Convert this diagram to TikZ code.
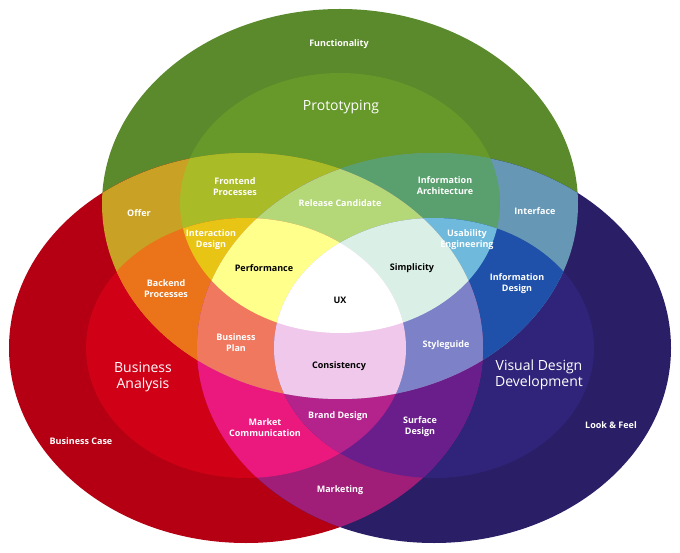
\documentclass[tikz,border=0pt]{standalone}
\usepackage{fontspec}
\setmainfont{Open Sans}
\definecolor{cFunc}{HTML}{5B8A2C}
\definecolor{cProto}{HTML}{66982A}
\definecolor{cBCase}{HTML}{B40012}
\definecolor{cBA}{HTML}{D00016}
\definecolor{cLook}{HTML}{2A1F66}
\definecolor{cVDD}{HTML}{2F247A}
\definecolor{cOffer}{HTML}{C9A124}
\definecolor{cInterface}{HTML}{6698B6}
\definecolor{cMarketing}{HTML}{A01E78}
\definecolor{cFrontend}{HTML}{AABB28}
\definecolor{cInfoArch}{HTML}{5AA06E}
\definecolor{cBackend}{HTML}{EB7319}
\definecolor{cMarketComm}{HTML}{EB197D}
\definecolor{cInfoDesign}{HTML}{1F50AA}
\definecolor{cSurface}{HTML}{6A1E8C}
\definecolor{cTriple}{HTML}{B07AA0}
\definecolor{cInteraction}{HTML}{E8C414}
\definecolor{cUsability}{HTML}{6EB9DC}
\definecolor{cBrand}{HTML}{B4238C}
\definecolor{cRelease}{HTML}{B4D778}
\definecolor{cBizPlan}{HTML}{F0785F}
\definecolor{cStyle}{HTML}{7D82C8}
\definecolor{cPerf}{HTML}{FFFF8C}
\definecolor{cSimpl}{HTML}{DAF0E6}
\definecolor{cConsist}{HTML}{F0C8EB}
\newcommand\GClipLevel[1]{\ifcase#1\or\clip (340,204) ellipse [x radius=238pt,y radius=195pt];\or\clip (340,203) ellipse [x radius=160pt,y radius=130pt];\fi}
\newcommand\RClipLevel[1]{\ifcase#1\or\clip (246,348) ellipse [x radius=237pt,y radius=195pt];\or\clip (246,348) ellipse [x radius=160pt,y radius=130pt];\fi}
\newcommand\PClipLevel[1]{\ifcase#1\or\clip (434,348) ellipse [x radius=237pt,y radius=195pt];\or\clip (434,348) ellipse [x radius=160pt,y radius=130pt];\fi}
\newcommand\VennRegion[4]{\begin{scope}\GClipLevel{#1}\RClipLevel{#2}\PClipLevel{#3}\fill[#4] (0,0) rectangle (680,553);\end{scope}}
\tikzset{
  lbl/.style={font=\bfseries\fontsize{9}{11}\selectfont, text=white, align=center, inner sep=0pt},
  dark/.style={lbl, text=black},
  big/.style={font=\fontsize{14}{16}\selectfont, text=white, align=center, inner sep=0pt}
}
\begin{document}
\begin{tikzpicture}[x=1pt,y=-1pt]
\useasboundingbox (0,0) rectangle (680,553);
\fill[white] (0,0) rectangle (680,553);
% sum 1
\VennRegion{1}{0}{0}{cFunc}
\VennRegion{0}{1}{0}{cBCase}
\VennRegion{0}{0}{1}{cLook}
% sum 2
\VennRegion{2}{0}{0}{cProto}
\VennRegion{0}{2}{0}{cBA}
\VennRegion{0}{0}{2}{cVDD}
\VennRegion{1}{1}{0}{cOffer}
\VennRegion{1}{0}{1}{cInterface}
\VennRegion{0}{1}{1}{cMarketing}
% sum 3
\VennRegion{2}{1}{0}{cFrontend}
\VennRegion{2}{0}{1}{cInfoArch}
\VennRegion{1}{2}{0}{cBackend}
\VennRegion{0}{2}{1}{cMarketComm}
\VennRegion{1}{0}{2}{cInfoDesign}
\VennRegion{0}{1}{2}{cSurface}
\VennRegion{1}{1}{1}{cTriple}
% sum 4
\VennRegion{2}{2}{0}{cInteraction}
\VennRegion{2}{0}{2}{cUsability}
\VennRegion{0}{2}{2}{cBrand}
\VennRegion{2}{1}{1}{cRelease}
\VennRegion{1}{2}{1}{cBizPlan}
\VennRegion{1}{1}{2}{cStyle}
% sum 5
\VennRegion{2}{2}{1}{cPerf}
\VennRegion{2}{1}{2}{cSimpl}
\VennRegion{1}{2}{2}{cConsist}
% sum 6
\VennRegion{2}{2}{2}{white}
% labels
\node[lbl] (func) at (339,44) {Functionality};
\node[big] (proto) at (341,107) {Prototyping};
\node[lbl] (front) at (235,187) {Frontend\\Processes};
\node[lbl] (infoarch) at (445,186) {Information\\Architecture};
\node[lbl] (release) at (340,203) {Release Candidate};
\node[lbl] (offer) at (139,213) {Offer};
\node[lbl] (interface) at (535,211) {Interface};
\node[lbl] (interaction) at (211,240) {Interaction\\Design};
\node[lbl] (usability) at (467,240) {Usability\\Engineering};
\node[dark] (perf) at (264,268) {Performance};
\node[dark] (simpl) at (412,268) {Simplicity};
\node[lbl] (infodesign) at (517,284) {Information\\Design};
\node[lbl] (backend) at (166,289) {Backend\\Processes};
\node[dark] (ux) at (340,300) {UX};
\node[lbl] (bizplan) at (236,343) {Business\\Plan};
\node[lbl] (style) at (446,345) {Styleguide};
\node[big] (ba) at (143,377) {Business\\Analysis};
\node[dark] (consist) at (339,366) {Consistency};
\node[big] (vdd) at (539,375) {Visual Design\\Development};
\node[lbl] (brand) at (338,416) {Brand Design};
\node[lbl] (marketcomm) at (265,428) {Market\\Communication};
\node[lbl] (surface) at (420,427) {Surface\\Design};
\node[lbl] (bcase) at (81,441) {Business Case};
\node[lbl] (look) at (611,425) {Look \& Feel};
\node[lbl] (marketing) at (340,490) {Marketing};
\end{tikzpicture}
\end{document}
